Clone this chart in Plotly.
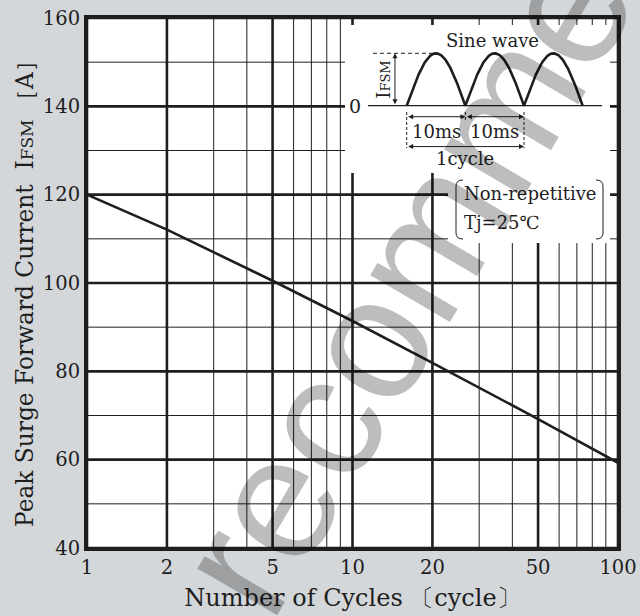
import numpy as np
import plotly.graph_objects as go

# ---------------- data ----------------
cycles = [1, 2, 5, 10, 20, 50, 100]
ifsm_a = [120, 112.1, 100.5, 91.4, 81.9, 69.2, 59.3]

x_major = [1, 2, 5, 10, 20, 50, 100]
x_major_labels = ["1", "2", "5", "10", "20", "50", "100"]
x_minor = [3, 4, 6, 7, 8, 9, 30, 40, 60, 70, 80, 90]
y_major = [40, 60, 80, 100, 120, 140, 160]
y_minor = [50, 70, 90, 110, 130, 150]

# ---------------- style ----------------
FONT = "DejaVu Serif"
INK = "#1e1e1e"
BG = "#d4d7da"
W, H = 640, 616
L, R, T, B = 87, 22, 18, 68
PW, PH = W - L - R, H - T - B


def fx(px):
    return (px - L) / PW


def fy(py):
    return (H - B - py) / PH


fig = go.Figure()

fig.add_trace(go.Scatter(x=cycles, y=ifsm_a, mode="lines",
                         line=dict(color=INK, width=2.6), hoverinfo="skip"))

# ---------------- inset diagram (own linear axes) ----------------
t = np.linspace(0, 30, 361)
hump = np.abs(np.sin(np.pi * t / 10))
fig.add_trace(go.Scatter(x=[-6.6, 33.3], y=[0, 0], mode="lines",
                         line=dict(color=INK, width=1.3), xaxis="x2", yaxis="y2"))
fig.add_trace(go.Scatter(x=t, y=hump, mode="lines",
                         line=dict(color=INK, width=2.6), xaxis="x2", yaxis="y2"))
fig.add_trace(go.Scatter(x=[-5.75, 5], y=[1, 1], mode="lines",
                         line=dict(color=INK, width=1, dash="4px,3px"), xaxis="x2", yaxis="y2"))

shapes = []
# grid drawn as shapes so the inset can mask it
for v in x_minor:
    shapes.append(dict(type="line", xref="x", yref="y domain", layer="below",
                       x0=v, x1=v, y0=0, y1=1, line=dict(color=INK, width=1)))
for v in y_minor:
    shapes.append(dict(type="line", xref="x domain", yref="y", layer="below",
                       x0=0, x1=1, y0=v, y1=v, line=dict(color=INK, width=1)))
for v in x_major:
    shapes.append(dict(type="line", xref="x", yref="y domain", layer="below",
                       x0=v, x1=v, y0=0, y1=1, line=dict(color=INK, width=2.6)))
for v in y_major:
    shapes.append(dict(type="line", xref="x domain", yref="y", layer="below",
                       x0=0, x1=1, y0=v, y1=v, line=dict(color=INK, width=2.6)))
# white masks hiding the grid under the inset
shapes.append(dict(type="rect", xref="x domain", yref="y domain", layer="below",
                   x0=fx(345), x1=fx(610), y0=fy(173), y1=fy(25),
                   fillcolor="white", line=dict(width=0)))
shapes.append(dict(type="rect", xref="x domain", yref="y domain", layer="below",
                   x0=fx(448), x1=fx(610), y0=fy(243), y1=fy(172),
                   fillcolor="white", line=dict(width=0)))
# dashed boundary ticks
for tx, v1 in [(0, -0.81), (10, -0.27), (20, -0.81)]:
    shapes.append(dict(type="line", xref="x2", yref="y2", x0=tx, x1=tx, y0=-0.12, y1=v1,
                       line=dict(color=INK, width=1, dash="3px,2px")))


# brackets around the condition text
def bracket(xv, xh):
    return ("M {a},{b} Q {c},{b} {c},{d} L {c},{e} Q {c},{f} {a},{f}".format(
        a=fx(xh), b=fy(180), c=fx(xv), d=fy(186), e=fy(233), f=fy(239)))


shapes.append(dict(type="path", xref="x domain", yref="y domain", path=bracket(456, 463),
                   line=dict(color=INK, width=1)))
shapes.append(dict(type="path", xref="x domain", yref="y domain", path=bracket(603, 596),
                   line=dict(color=INK, width=1)))

ann = []


def arrow(x0, x1, y0, y1):
    return dict(x=x1, y=y1, ax=x0, ay=y0, xref="x2", yref="y2", axref="x2", ayref="y2",
                text="", showarrow=True, arrowhead=2, startarrowhead=2, arrowside="end+start",
                arrowsize=1, startarrowsize=1, arrowwidth=1, arrowcolor=INK)


ann.append(arrow(0, 10, -0.21, -0.21))
ann.append(arrow(10, 20, -0.21, -0.21))
ann.append(arrow(0, 20, -0.78, -0.78))
ann.append(arrow(-2.0, -2.0, 0, 1))

f_in = dict(family=FONT, size=18, color=INK)


def txt(x, y, s, **kw):
    d = dict(x=x, y=y, xref="x2", yref="y2", text=s, showarrow=False, font=f_in,
             xanchor="center", yanchor="middle")
    d.update(kw)
    return d


ann.append(txt(14.7, 1.25, "Sine wave"))
ann.append(txt(-8.8, 0, "0", font=dict(family=FONT, size=19, color=INK)))
ann.append(txt(-4.1, 0.49, "I<span style='font-size:13px'>FSM</span>", textangle=-90))
ann.append(txt(5, -0.50, "10ms"))
ann.append(txt(15, -0.50, "10ms"))
ann.append(txt(10, -1.0, "1cycle"))
ann.append(dict(x=fx(462), y=fy(193), xref="paper", yref="paper", xanchor="left",
                yanchor="middle", text="Non-repetitive", showarrow=False, font=f_in))
ann.append(dict(x=fx(462), y=fy(222), xref="paper", yref="paper", xanchor="left",
                yanchor="middle", text="Tj=25℃", showarrow=False, font=f_in))

# y-axis title
ann.append(dict(x=fx(24), y=fy(288), xref="paper", yref="paper", xanchor="center",
                yanchor="middle", textangle=-90, showarrow=False,
                text="Peak Surge Forward Current  I<span style='font-size:17px'>FSM</span> ［A］",
                font=dict(family=FONT, size=23.3, color=INK)))

# watermark
ann.append(dict(x=fx(421), y=fy(251), xref="paper", yref="paper", text="Not recommended",
                showarrow=False, textangle=-59.5, xanchor="center", yanchor="middle",
                font=dict(family="Liberation Sans", size=175, color="rgba(0,0,0,0.26)")))

fig.update_layout(
    width=W, height=H,
    margin=dict(l=L, r=R, t=T, b=B, autoexpand=False),
    paper_bgcolor=BG, plot_bgcolor="white",
    showlegend=False,
    font=dict(family=FONT, color=INK),
    shapes=shapes, annotations=ann,
    xaxis=dict(type="log", range=[0, 2], tickvals=x_major, ticktext=x_major_labels,
               showgrid=False, automargin=False,
               showline=True, linewidth=3, linecolor=INK, mirror=True,
               ticks="",
               tickfont=dict(family=FONT, size=19.5, color=INK),
               title=dict(text="Number of Cycles 〔cycle〕", standoff=11,
                          font=dict(family=FONT, size=24, color=INK)),
               zeroline=False),
    yaxis=dict(range=[40, 160], tickvals=y_major,
               showgrid=False, automargin=False,
               showline=True, linewidth=3, linecolor=INK, mirror=True,
               ticks="",
               tickfont=dict(family=FONT, size=19.5, color=INK),
               zeroline=False),
    xaxis2=dict(domain=[fx(345), fx(610)], range=[-10.52, 34.66], anchor="y2",
                visible=False, fixedrange=True),
    yaxis2=dict(domain=[fy(173), fy(25)], range=[-1.284, 1.540], anchor="x2",
                visible=False, fixedrange=True),
)

fig.write_html("out.html", config={"displayModeBar": False},
               post_script="document.body.style.margin='0';"
                           "document.body.style.background='" + BG + "';")
